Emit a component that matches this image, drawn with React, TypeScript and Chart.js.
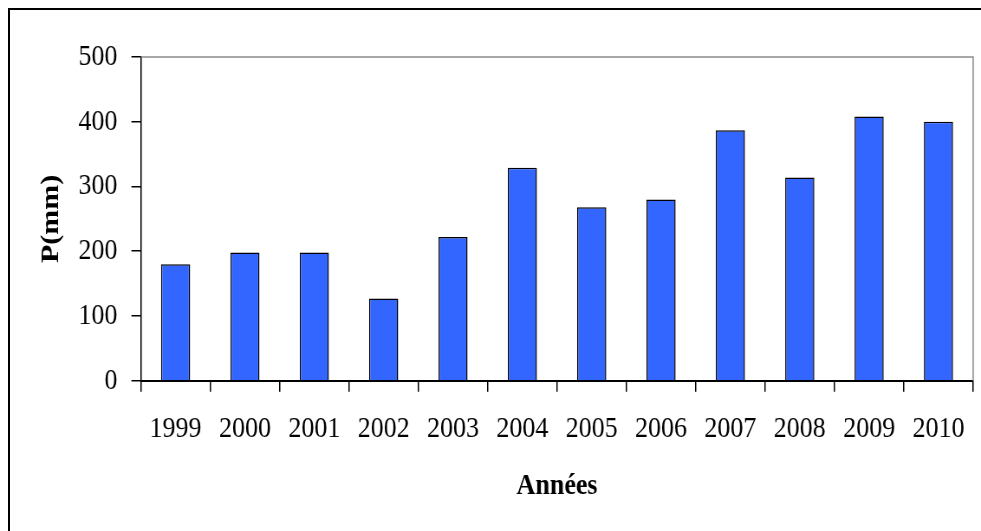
import React, { useEffect, useRef } from "react";
import { Chart, registerables } from "chart.js";

Chart.register(...registerables);

// Annual precipitation, 1999–2010
const years = ["1999", "2000", "2001", "2002", "2003", "2004", "2005", "2006", "2007", "2008", "2009", "2010"];
const precipitation = [180, 198, 198, 127, 222, 329, 268, 280, 387, 314, 408, 400];
const yMin = 0;
const yMax = 500;
const yStep = 100;

// The chart is laid out on a wider canvas and narrowed horizontally,
// which gives the condensed Times-style lettering.
const CANVAS_W = 1132;
const CANVAS_H = 531;
const SCALE_X = 981 / CANVAS_W;

const FONT = "'Liberation Serif', 'Times New Roman', serif";

const plotFrame = {
  id: "plotFrame",
  beforeDatasetsDraw(chart: any) {
    const { ctx, chartArea } = chart;
    const { left, top, right, bottom } = chartArea;
    ctx.save();
    ctx.strokeStyle = "#8a8a8a";
    ctx.lineWidth = 1.5;
    ctx.beginPath();
    ctx.moveTo(left, top);
    ctx.lineTo(right, top);
    ctx.lineTo(right, bottom);
    ctx.stroke();
    ctx.restore();
  },
};

export default function App() {
  const canvasRef = useRef<HTMLCanvasElement | null>(null);

  useEffect(() => {
    const canvas = canvasRef.current;
    if (!canvas) return;
    const chart = new Chart(canvas, {
      type: "bar",
      data: {
        labels: years,
        datasets: [
          {
            label: "P(mm)",
            data: precipitation,
            backgroundColor: "#3366ff",
            borderColor: "#000000",
            borderWidth: 1.5,
            barPercentage: 0.42,
            categoryPercentage: 1,
          },
        ],
      },
      options: {
        responsive: false,
        animation: false,
        devicePixelRatio: 1,
        layout: { padding: { top: 57, left: 0, right: CANVAS_W - 1130.3, bottom: 0 } },
        plugins: {
          legend: { display: false },
          tooltip: { enabled: false },
        },
        scales: {
          x: {
            offset: true,
            border: { display: true, color: "#000000", width: 2 },
            grid: {
              display: true,
              offset: true,
              drawOnChartArea: false,
              drawTicks: true,
              tickLength: 11,
              color: "#000000",
              lineWidth: 1.5,
            },
            ticks: {
              color: "#000000",
              font: { family: FONT, size: 30 },
              padding: 19,
              maxRotation: 0,
              minRotation: 0,
              autoSkip: false,
            },
            title: {
              display: true,
              text: "Années",
              color: "#000000",
              font: { family: FONT, size: 30, weight: "bold" },
              padding: { top: 22, bottom: 26.4 },
            },
            afterFit(scale: any) {
              scale.height = CANVAS_H - 380.7;
            },
          },
          y: {
            min: yMin,
            max: yMax,
            border: { display: true, color: "#000000", width: 1.5 },
            grid: {
              display: true,
              drawOnChartArea: false,
              drawTicks: true,
              tickLength: 11,
              color: "#000000",
              lineWidth: 1.5,
            },
            ticks: {
              stepSize: yStep,
              color: "#000000",
              font: { family: FONT, size: 30 },
              padding: 16,
            },
            title: {
              display: true,
              text: "P(mm)",
              color: "#000000",
              font: { family: FONT, size: 30, weight: "bold" },
              padding: { top: 40.8, bottom: 10 },
            },
            afterFit(scale: any) {
              scale.width = 162.6;
            },
          },
        },
      },
      plugins: [plotFrame],
    });
    return () => chart.destroy();
  }, []);

  return (
    <div
      style={{
        position: "fixed",
        left: 0,
        top: 0,
        width: 981,
        height: 531,
        overflow: "hidden",
        background: "#ffffff",
      }}
    >
      <div
        style={{
          position: "absolute",
          left: 8,
          top: 8,
          width: 1200,
          height: 800,
          borderLeft: "2px solid #000000",
          borderTop: "2px solid #000000",
        }}
      />
      <div
        style={{
          position: "absolute",
          left: 0,
          top: 0,
          width: CANVAS_W,
          height: CANVAS_H,
          transform: `scaleX(${SCALE_X})`,
          transformOrigin: "0 0",
        }}
      >
        <canvas
          ref={canvasRef}
          width={CANVAS_W}
          height={CANVAS_H}
          style={{ width: CANVAS_W, height: CANVAS_H, display: "block" }}
        />
      </div>
    </div>
  );
}
